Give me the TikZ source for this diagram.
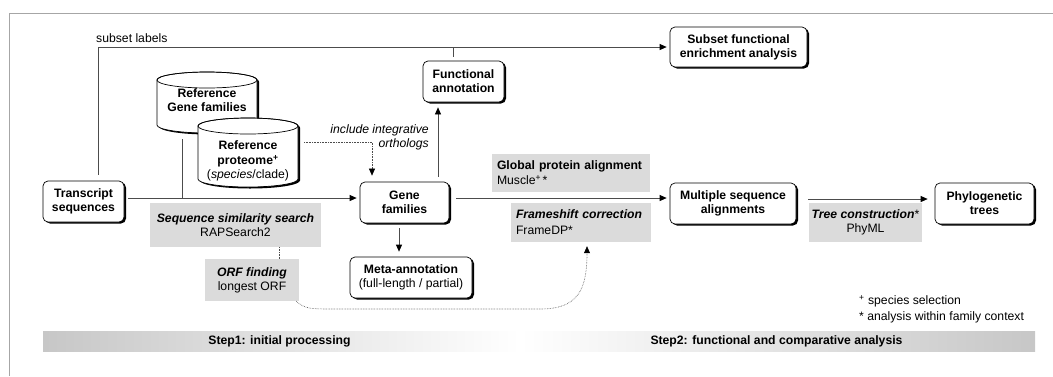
\documentclass[tikz,border=0pt]{standalone}
\usepackage{fontspec}
\setmainfont{Liberation Sans}
\usetikzlibrary{arrows.meta,shadows,calc}
\begin{document}
\begin{tikzpicture}[x=1pt,y=-1pt,
  every node/.style={font=\fontsize{12.2}{14}\selectfont, inner sep=0pt},
  box/.style={draw=black, line width=0.7pt, rounded corners=5pt, fill=white, align=center,
    font=\fontsize{12.2}{14}\selectfont\bfseries,
    drop shadow={shadow xshift=2pt, shadow yshift=-1.5pt, fill=black, opacity=1}},
  graybox/.style={fill=black!14, align=center},
  conn/.style={draw=black!70, line width=0.7pt},
  arr/.style={conn, -{Triangle[length=7pt,width=6pt,color=black]}},
  dotl/.style={draw=black!70, line width=0.6pt, densely dotted},
  darr/.style={dotl, -{Triangle[length=7pt,width=6pt,color=black]}},
  cylshadow/.style={fill=black},
  cylbody/.style={draw=black, fill=white, line width=0.7pt}
]
\useasboundingbox (0,0) rectangle (1053,376);
% frame
\draw[black!35, line width=0.8pt] (9,376) -- (9,13) -- (1053,13);

% cylinders
\begin{scope}[xshift=2pt,yshift=-1.5pt]
\fill[cylshadow] (157,80) -- (157,125) arc[start angle=180,end angle=360,x radius=50pt,y radius=8pt] -- (257,80) arc[start angle=0,end angle=180,x radius=50pt,y radius=8pt] -- cycle;
\end{scope}
\draw[cylbody] (157,80) -- (157,125) arc[start angle=180,end angle=360,x radius=50pt,y radius=8pt] -- (257,80) arc[start angle=0,end angle=180,x radius=50pt,y radius=8pt] -- cycle;
\draw[line width=0.7pt] (207,80) ellipse[x radius=50pt,y radius=8pt];
\node[font=\fontsize{12.2}{14}\selectfont\bfseries, align=center] (rgf) at (207,100) {Reference\\Gene families};
\coordinate (rgfbot) at (182,139);

\begin{scope}[xshift=2pt,yshift=-1.5pt]
\fill[cylshadow] (198,126) -- (198,179) arc[start angle=180,end angle=360,x radius=50pt,y radius=8pt] -- (298,126) arc[start angle=0,end angle=180,x radius=50pt,y radius=8pt] -- cycle;
\end{scope}
\draw[cylbody] (198,126) -- (198,179) arc[start angle=180,end angle=360,x radius=50pt,y radius=8pt] -- (298,126) arc[start angle=0,end angle=180,x radius=50pt,y radius=8pt] -- cycle;
\draw[line width=0.7pt] (248,126) ellipse[x radius=50pt,y radius=8pt];
\node[align=center] (rp) at (248,161) {\textbf{Reference}\\[1pt]\textbf{proteome\textsuperscript{+}}\\(\textit{species}/clade)};
\coordinate (rpE) at (304,142);

% boxes
\node[box, minimum width=81pt, minimum height=41pt] (ts) at (83.5,201.5) {Transcript\\sequences};
\node[box, minimum width=137pt, minimum height=40pt] (sfe) at (738.5,47) {Subset functional\\enrichment analysis};
\node[box, minimum width=81pt, minimum height=41pt] (fa) at (463.5,81.5) {Functional\\annotation};
\node[box, minimum width=89pt, minimum height=41pt] (gf) at (404.5,202.5) {Gene\\families};
\node[box, minimum width=122pt, minimum height=41pt] (meta) at (411,277.5) {Meta-annotation\\{\mdseries(full-length / partial)}};
\node[box, minimum width=126pt, minimum height=41pt] (msa) at (733,203.5) {Multiple sequence\\alignments};
\node[box, minimum width=99pt, minimum height=41pt] (pt) at (984.5,203.5) {Phylogenetic\\trees};

% gray method boxes
\node[graybox, minimum width=171pt, minimum height=44pt] (sss) at (235.5,225) {\textbf{\textit{Sequence similarity search}}\\RAPSearch2};
\node[graybox, minimum width=94pt, minimum height=42pt] (orf) at (252,280) {\textbf{\textit{ORF finding}}\\longest ORF};
\node[graybox, minimum height=38pt, inner xsep=5pt, text width=148pt, align=left] (gpa) at (571,173) {\textbf{Global protein alignment}\\[1pt]Muscle\textsuperscript{+}\hspace{1.5pt}*};
\node[graybox, minimum height=39pt, inner xsep=5pt, text width=130pt, align=left] (fsc) at (581,222.5) {\textbf{\textit{Frameshift correction}}\\[2pt]FrameDP*};
\node[graybox, minimum width=113pt, minimum height=39pt] (tc) at (865.5,222.5) {\textbf{\textit{Tree construction}}*\\PhyML};

% subset labels line
\node[anchor=west] (sl) at (96,38) {subset labels};
\draw[arr] ([xshift=14.5pt,yshift=6pt]ts.north) |- ([xshift=-3pt]sfe.west);
\coordinate (faj) at (453,47);
\draw[conn] ([xshift=-10.5pt,yshift=4pt]fa.north) -- (faj);

% main flow
\draw[arr] ([xshift=4pt,yshift=3.5pt]ts.east) -- ([xshift=-3pt,yshift=4.5pt]gf.west);
\coordinate (j1) at (182,198);
\draw[conn] (rgfbot) -- (j1);
\draw[arr] ([xshift=33.5pt,yshift=5pt]gf.north) -- ([xshift=-25.5pt,yshift=-5pt]fa.south);
\draw[arr] ([xshift=-5.5pt,yshift=-5pt]gf.south) -- ([xshift=-12pt,yshift=5pt]meta.north);
\draw[arr] ([xshift=7pt,yshift=4.5pt]gf.east) -- ([xshift=-3pt,yshift=5.5pt]msa.west);
\draw[arr] ([xshift=12pt,yshift=4.5pt]msa.east) -- ([xshift=-7pt,yshift=4.5pt]pt.west);

% dotted connectors
\node[anchor=east, align=right, font=\fontsize{12.2}{14}\selectfont\itshape] (inc) at (429,137) {include integrative\\orthologs};
\draw[darr] (rpE) -- (372,142) -- ([xshift=-32.5pt,yshift=6pt]gf.north);
\draw[dotl] ([xshift=43.5pt]sss.south) -- ([xshift=27pt]orf.north);
\draw[darr] ([xshift=-3pt]orf.south east) .. controls (305,309) and (310,309) .. (335,309) -- (540,309) .. controls (578,309) and (587,290) .. ($(fsc.south)+(6,4)$);

% legend
\node[anchor=west] (lg1) at (859,301) {\textsuperscript{+} species selection};
\node[anchor=west] (lg2) at (859,317) {* analysis within family context};

% step bar
\shade[left color=black!22, right color=white] (43,331) rectangle (520,351);
\shade[left color=white, right color=black!22] (520,331) rectangle (1035,351);
\node[font=\fontsize{12.2}{14}\selectfont\bfseries] (s1) at (279.5,341) {Step1: initial processing};
\node[font=\fontsize{12.2}{14}\selectfont\bfseries] (s2) at (776.5,341) {Step2: functional and comparative analysis};
\end{tikzpicture}
\end{document}
